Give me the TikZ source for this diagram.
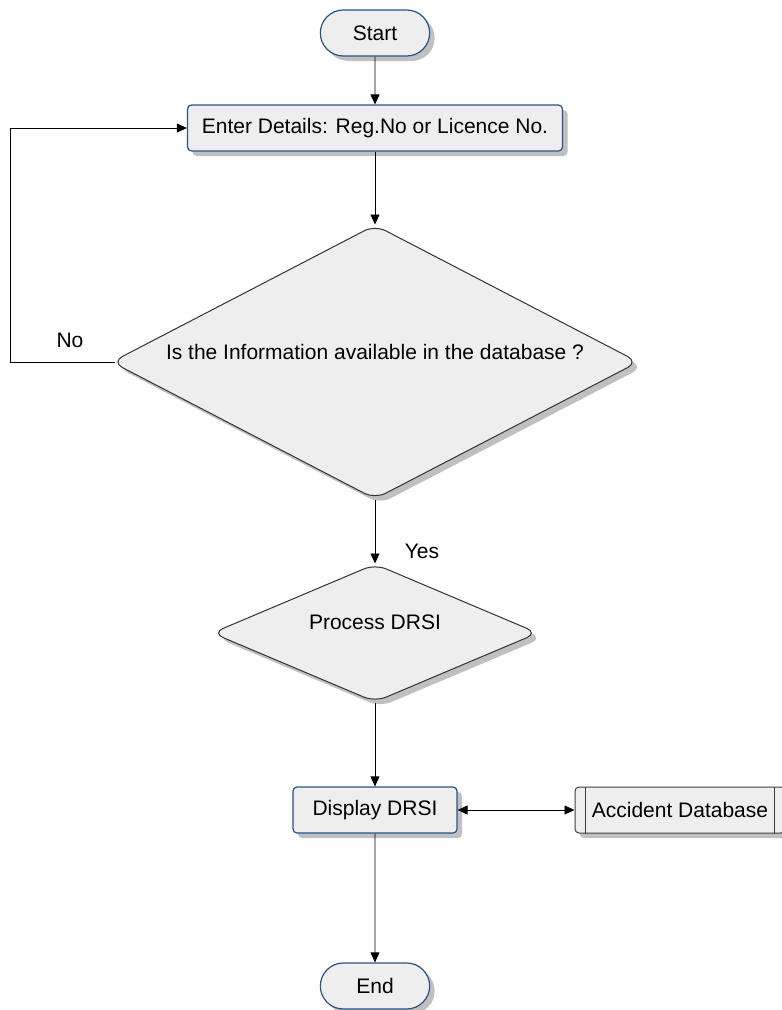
\documentclass[tikz,border=0pt]{standalone}
\usepackage{fontspec}
\setmainfont{Liberation Sans}
\usepackage{tikz}
\usetikzlibrary{shapes.geometric,shapes.misc,shadows,arrows.meta}

\definecolor{boxfill}{RGB}{238,238,238}
\definecolor{boxline}{RGB}{38,84,135}
\definecolor{shade}{RGB}{192,192,192}

\begin{document}
\begin{tikzpicture}[x=1pt,y=-1pt,
    font=\fontsize{21}{25}\selectfont,
    shady/.style={drop shadow={shadow xshift=5pt,shadow yshift=-5pt,fill=shade,opacity=1}},
    terminal/.style={rounded rectangle,draw=boxline,line width=1.2pt,fill=boxfill,shady,
                     minimum width=116pt,minimum height=46pt},
    process/.style={rectangle,rounded corners=4pt,draw=boxline,line width=1.2pt,fill=boxfill,shady,
                    minimum height=46pt},
    decision/.style={diamond,rounded corners=12pt,draw=black!80,line width=1pt,fill=boxfill,shady,
                     inner sep=0pt},
    store/.style={rectangle,rounded corners=4pt,draw=black!75,line width=1pt,fill=boxfill,shady,
                  minimum height=46pt},
    flow/.style={-{Triangle[length=10pt,width=9pt]},line width=0.9pt}]
     \useasboundingbox (0,0) rectangle (782,1010);                           % page frame

     \node[terminal] (start) at (375,33) {Start};
     \node[process,minimum width=375pt] (enter) at (375,128) {Enter Details: Reg.No or Licence No.};
     \node[decision,minimum width=527pt,minimum height=274pt] (check) at (375,362) {};
     \node (checktext) at (375,352) {Is the Information available in the database ?};
     \node[decision,minimum width=326pt,minimum height=138pt] (proc) at (375,633) {};
     \node (proctext) at (375,622) {Process DRSI};
     \node[process,minimum width=164pt] (show) at (375,810) {Display DRSI};
     \node[store,minimum width=210pt] (accdb) at (680,810) {Accident Database};
     \draw[line width=1pt,black!75] ([xshift=11pt]accdb.north west) -- ([xshift=11pt]accdb.south west);   % side bars
     \draw[line width=1pt,black!75] ([xshift=-11pt]accdb.north east) -- ([xshift=-11pt]accdb.south east);
     \node[terminal] (stop) at (375,986) {End};

     \draw[flow] (start) -- (enter);
     \draw[flow] (enter) -- (check);
     \coordinate (back) at (10,128);                                           % loop back corner
     \draw[flow] ([xshift=4pt]check.west) -| (back) -- (enter.west);
     \node (no) at (70,340) {No};
     \draw[flow] (check) -- (proc);
     \node (yes) at (422,551) {Yes};
     \draw[flow] (proc) -- (show);
     \draw[{Triangle[length=10pt,width=9pt]}-{Triangle[length=10pt,width=9pt]},line width=0.9pt] (show) -- (accdb);
     \draw[flow] (show) -- (stop);
\end{tikzpicture}
\end{document}
